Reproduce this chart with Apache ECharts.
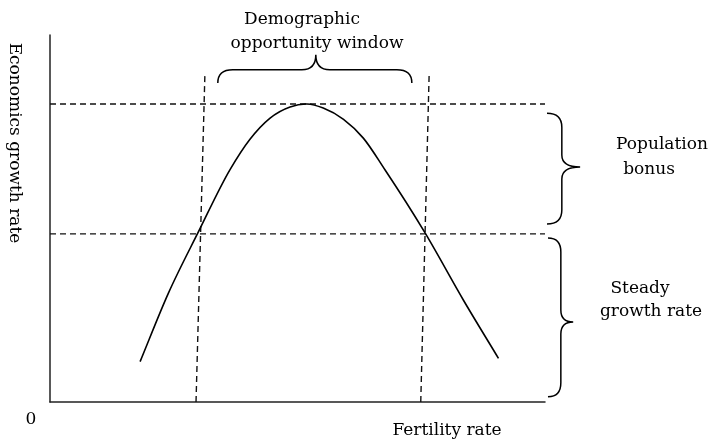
<!DOCTYPE html>
<html>
<head>
<meta charset="utf-8">
<script src="https://cdn.jsdelivr.net/npm/echarts@6/dist/echarts.min.js"></script>
<style>html,body{margin:0;padding:0;background:#fff;}#c{width:717px;height:439px;}</style>
</head>
<body>
<div id="c"></div>
<script>
// Curve: economic growth rate vs fertility rate (schematic, axis 0-100)
const curveX = [18.2, 23.9, 30.0, 36.4, 40.4, 44.4, 48.5, 51.9, 55.2, 59.3, 63.3, 67.7, 75.8, 83.5, 90.6];
const curveY = [11.0, 29.6, 46.4, 63.4, 71.6, 77.3, 80.4, 81.2, 80.1, 77.0, 71.9, 63.2, 46.0, 27.8, 11.9];
// Horizontal dashed reference levels
const levels = [45.8, 81.2];
// Vertical dashed window bounds (bottom x, top x) and top y
const windowBottomX = [29.5, 74.9];
const windowTopX = [31.3, 76.6];
const windowTopY = 89.6;
// Vertical braces: [xEnd, yTop, yBottom, xSpine, xTip, yTip]
const vBraces = [
  [100.4, 78.7, 48.5, 103.4, 107.1, 64.0],
  [100.6, 44.7, 1.4, 103.2, 105.7, 21.8]
];
// Horizontal brace: [yEnd, xLeft, xRight, ySpine, yTip, xTip]
const hBraces = [[86.9, 33.9, 73.1, 90.5, 94.6, 53.7]];
// Text
const yName = 'Economics growth rate';
const xName = 'Fertility rate';
const originLabel = '0';
const windowLabel = ['Demographic', 'opportunity window'];
const bonusLabel = ['Population', 'bonus'];
const steadyLabel = ['Steady', 'growth rate'];

const FONT = '"DejaVu Serif", "Liberation Serif", serif';
const chart = echarts.init(document.getElementById('c'));

const dashStyle = {color: '#111', width: 1.4, type: [6, 4]};
const series = [];
// Smooth curve through the data points (cubic Hermite in x), positioned via the axes
series.push({
  type: 'custom', data: curveX.map((x, i) => [x, curveY[i]]), clip: false, z: 5,
  encode: {x: 0, y: 1},
  renderItem: function (params, api) {
    if (params.dataIndex !== 0) return null;
    const p = curveX.map((x, i) => api.coord([x, curveY[i]]));
    const n = p.length;
    const h = [], s = [];
    for (let i = 0; i < n - 1; i++) { h.push(p[i + 1][0] - p[i][0]); s.push((p[i + 1][1] - p[i][1]) / h[i]); }
    const m = [];
    for (let i = 0; i < n; i++) {
      if (i === 0) m.push(s[0]);
      else if (i === n - 1) m.push(s[n - 2]);
      else m.push((s[i - 1] * h[i] + s[i] * h[i - 1]) / (h[i - 1] + h[i]));
    }
    let d = `M${p[0][0]},${p[0][1]}`;
    for (let i = 0; i < n - 1; i++) {
      const t = h[i] / 3;
      d += ` C${p[i][0] + t},${p[i][1] + m[i] * t} ${p[i + 1][0] - t},${p[i + 1][1] - m[i + 1] * t} ${p[i + 1][0]},${p[i + 1][1]}`;
    }
    return {type: 'path', shape: {pathData: d}, style: {fill: null, stroke: '#000', lineWidth: 1.6}};
  }
});
levels.forEach(l => series.push({
  type: 'line', data: [[0, l], [100, l]], showSymbol: false, lineStyle: dashStyle, z: 3
}));
windowBottomX.forEach((b, i) => series.push({
  type: 'line', data: [[b, 0], [windowTopX[i], windowTopY]], showSymbol: false, lineStyle: dashStyle, z: 3
}));
series.push({
  type: 'custom', data: vBraces, clip: false, z: 4,
  renderItem: function (params, api) {
    const xe = api.coord([api.value(0), 0])[0];
    const y1 = api.coord([0, api.value(1)])[1];
    const y2 = api.coord([0, api.value(2)])[1];
    const xs = api.coord([api.value(3), 0])[0];
    const xt = api.coord([api.value(4), 0])[0];
    const ym = api.coord([0, api.value(5)])[1];
    const r = 14, m = 12;
    const d = `M${xe},${y1} Q${xs},${y1} ${xs},${y1 + r} L${xs},${ym - m} Q${xs},${ym} ${xt},${ym} ` +
      `Q${xs},${ym} ${xs},${ym + m} L${xs},${y2 - r} Q${xs},${y2} ${xe},${y2}`;
    return {type: 'path', shape: {pathData: d}, style: {fill: null, stroke: '#000', lineWidth: 1.5}};
  }
});
series.push({
  type: 'custom', data: hBraces, clip: false, z: 4,
  renderItem: function (params, api) {
    const ye = api.coord([0, api.value(0)])[1];
    const x1 = api.coord([api.value(1), 0])[0];
    const x2 = api.coord([api.value(2), 0])[0];
    const ys = api.coord([0, api.value(3)])[1];
    const yt = api.coord([0, api.value(4)])[1];
    const xm = api.coord([api.value(5), 0])[0];
    const r = 15, m = 14;
    const d = `M${x1},${ye} Q${x1},${ys} ${x1 + r},${ys} L${xm - m},${ys} Q${xm},${ys} ${xm},${yt} ` +
      `Q${xm},${ys} ${xm + m},${ys} L${x2 - r},${ys} Q${x2},${ys} ${x2},${ye}`;
    return {type: 'path', shape: {pathData: d}, style: {fill: null, stroke: '#000', lineWidth: 1.5}};
  }
});

function txt(t, x, y, extra) {
  return Object.assign({type: 'text', x: x, y: y,
    style: {text: t, fill: '#000', font: '17px ' + FONT, textAlign: 'center', textVerticalAlign: 'middle'}}, extra || {});
}

chart.setOption({
  animation: false,
  backgroundColor: '#fff',
  grid: {left: 50, right: 172, top: 35, bottom: 37},
  xAxis: {type: 'value', min: 0, max: 100, axisLine: {show: true, lineStyle: {color: '#222', width: 1.5}},
    axisTick: {show: false}, axisLabel: {show: false}, splitLine: {show: false}},
  yAxis: {type: 'value', min: 0, max: 100, axisLine: {show: true, lineStyle: {color: '#222', width: 1.5}},
    axisTick: {show: false}, axisLabel: {show: false}, splitLine: {show: false}},
  series: series,
  graphic: [
    txt(windowLabel[0], 302, 20),
    txt(windowLabel[1], 317, 44),
    txt(bonusLabel[0], 662, 145),
    txt(bonusLabel[1], 649, 170),
    txt(steadyLabel[0], 640, 289),
    txt(steadyLabel[1], 651, 312),
    txt(xName, 447, 431),
    txt(originLabel, 31, 420),
    txt(yName, 14, 143, {rotation: -Math.PI / 2})
  ]
});
</script>
</body>
</html>
